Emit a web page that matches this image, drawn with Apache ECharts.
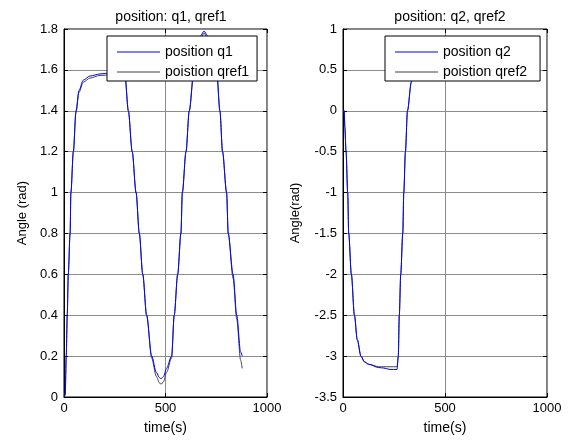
<!DOCTYPE html>
<html>
<head>
<meta charset="utf-8">
<style>
  html, body { margin: 0; padding: 0; background: #fff; }
  #chart { width: 572px; height: 440px; }
</style>
<script src="https://cdn.jsdelivr.net/npm/echarts@6/dist/echarts.min.js"></script>
</head>
<body>
<div id="chart"></div>
<script>
// left plot: time samples and joint 1 angles
const t1 = [0, 6, 11, 16, 21, 30, 34, 46, 59, 74, 95, 128, 177, 230, 290, 300, 317, 336, 355, 371, 388, 407, 432, 455, 470, 478, 490, 505, 530, 543, 560, 576, 583, 601, 617, 640, 660, 675, 690, 705, 725, 752, 768, 781, 801, 809, 833, 851, 870, 878]
const q1 = [0, 0.01, 0.2, 0.4, 0.6, 0.8, 1.0, 1.2, 1.4, 1.5, 1.55, 1.57, 1.58, 1.585, 1.59, 1.58, 1.4, 1.2, 1.0, 0.8, 0.6, 0.4, 0.2, 0.12, 0.095, 0.089, 0.1, 0.14, 0.2, 0.4, 0.6, 0.8, 1.0, 1.2, 1.4, 1.6, 1.71, 1.77, 1.79, 1.77, 1.7, 1.6, 1.4, 1.2, 1.0, 0.8, 0.6, 0.4, 0.22, 0.2]
const qref1 = [0, 0.01, 0.2, 0.4, 0.6, 0.8, 1.0, 1.2, 1.39, 1.49, 1.54, 1.56, 1.573, 1.575, 1.578, 1.57, 1.4, 1.2, 1.0, 0.8, 0.6, 0.4, 0.19, 0.1, 0.07, 0.062, 0.075, 0.12, 0.19, 0.4, 0.6, 0.8, 1.0, 1.2, 1.4, 1.59, 1.7, 1.76, 1.78, 1.76, 1.69, 1.59, 1.4, 1.2, 1.0, 0.8, 0.58, 0.38, 0.18, 0.14]

// right plot: joint 2
const t2 = [0, 6, 9, 15, 23, 28, 41, 56, 70, 88, 105, 126, 175, 200, 230, 265, 271, 276, 283, 293, 298, 306, 316, 335, 350]
const q2 = [0, 0, -0.2, -0.5, -1.0, -1.5, -2.0, -2.5, -2.8, -3.0, -3.07, -3.1, -3.14, -3.146, -3.163, -3.163, -3.0, -2.5, -2.0, -1.5, -1.0, -0.5, 0, 0.35, 0.7]
const qref2 = [0, 0, -0.2, -0.5, -1.0, -1.5, -2.0, -2.5, -2.8, -3.0, -3.07, -3.1, -3.13, -3.13, -3.13, -3.13, -3.0, -2.5, -2.0, -1.5, -1.0, -0.5, 0, 0.35, 0.7]

const yTicks1 = { min: 0, max: 1.8, interval: 0.2 }
const yTicks2 = { min: -3.5, max: 1, interval: 0.5 }
const xTicks = { min: 0, max: 1000, interval: 500 }

const font = 'Liberation Sans, Arial, sans-serif'
const gridColor = '#8c8c8c'
const pairs = (t, v) => t.map((x, i) => [x, v[i]])

const chart = echarts.init(document.getElementById('chart'), null, { renderer: 'canvas' })

function mainX(gridIndex) {
  return {
    type: 'value', gridIndex, ...xTicks,
    name: 'time(s)', nameLocation: 'middle', nameGap: 24,
    nameTextStyle: { fontFamily: font, fontSize: 14, color: '#000' },
    axisLine: { show: true, onZero: false, lineStyle: { color: '#000' } },
    axisTick: { inside: true, length: 4, lineStyle: { color: '#000' } },
    axisLabel: { fontFamily: font, fontSize: 13, color: '#000', margin: 5, formatter: v => String(v) },
    splitLine: { show: true, lineStyle: { color: gridColor } },
  }
}
function mainY(gridIndex, ticks, name, gap) {
  return {
    type: 'value', gridIndex, ...ticks,
    name, nameLocation: 'middle', nameGap: gap,
    nameTextStyle: { fontFamily: font, fontSize: 13, color: '#000' },
    axisLine: { show: true, onZero: false, lineStyle: { color: '#000' } },
    axisTick: { inside: true, length: 4, lineStyle: { color: '#000' } },
    axisLabel: { fontFamily: font, fontSize: 13, color: '#000', margin: 6 },
    splitLine: { show: true, lineStyle: { color: gridColor } },
  }
}
// top / right axes only carry the inner tick marks of the box
function tickOnly(kind, gridIndex, ticks) {
  return {
    type: 'value', gridIndex, ...ticks,
    position: kind === 'x' ? 'top' : 'right',
    axisLine: { show: false, onZero: false },
    axisTick: { show: true, inside: true, length: 4, lineStyle: { color: '#000' } },
    axisLabel: { show: false },
    splitLine: { show: false },
  }
}
function legend(left, names, padRight) {
  return {
    data: names, orient: 'vertical', left, top: 36,
    icon: 'rect', itemWidth: 43, itemHeight: 1, itemGap: 6,
    padding: [9, padRight, 2, 10],
    backgroundColor: '#fff', borderColor: '#000', borderWidth: 1,
    textStyle: { fontFamily: font, fontSize: 14, color: '#000' },
  }
}
function line(name, data, color, xi, yi) {
  return {
    name, type: 'line', data, xAxisIndex: xi, yAxisIndex: yi,
    showSymbol: false, symbol: 'none', animation: false,
    smooth: 0.3, smoothMonotone: 'x',
    lineStyle: { color, width: 1 }, itemStyle: { color },
  }
}

const titleStyle = { fontFamily: font, fontSize: 14, fontWeight: 'normal', color: '#000' }

chart.setOption({
  animation: false,
  textStyle: { fontFamily: font },
  title: [
    { text: 'position: q1, qref1', left: 166, top: 5, textAlign: 'center', textStyle: titleStyle },
    { text: 'position: q2, qref2', left: 445, top: 5, textAlign: 'center', textStyle: titleStyle },
  ],
  grid: [
    { left: 64, top: 29, width: 203, height: 369, show: true, borderColor: '#000', borderWidth: 1, backgroundColor: '#fff' },
    { left: 343, top: 29, width: 204, height: 369, show: true, borderColor: '#000', borderWidth: 1, backgroundColor: '#fff' },
  ],
  xAxis: [mainX(0), mainX(1), tickOnly('x', 0, xTicks), tickOnly('x', 1, xTicks)],
  yAxis: [
    mainY(0, yTicks1, 'Angle (rad)', 35),
    mainY(1, yTicks2, 'Angle(rad)', 41),
    tickOnly('y', 0, yTicks1),
    tickOnly('y', 1, yTicks2),
  ],
  legend: [
    legend(107, ['position q1', 'poistion qref1'], 8),
    legend(385, ['position q2', 'poistion qref2'], 13),
  ],
  series: [
    line('poistion qref1', pairs(t1, qref1), '#444', 0, 0),
    line('position q1', pairs(t1, q1), '#0000ff', 0, 0),
    line('poistion qref2', pairs(t2, qref2), '#444', 1, 1),
    line('position q2', pairs(t2, q2), '#0000ff', 1, 1),
  ],
})

window.addEventListener('resize', () => chart.resize())
</script>
</body>
</html>
